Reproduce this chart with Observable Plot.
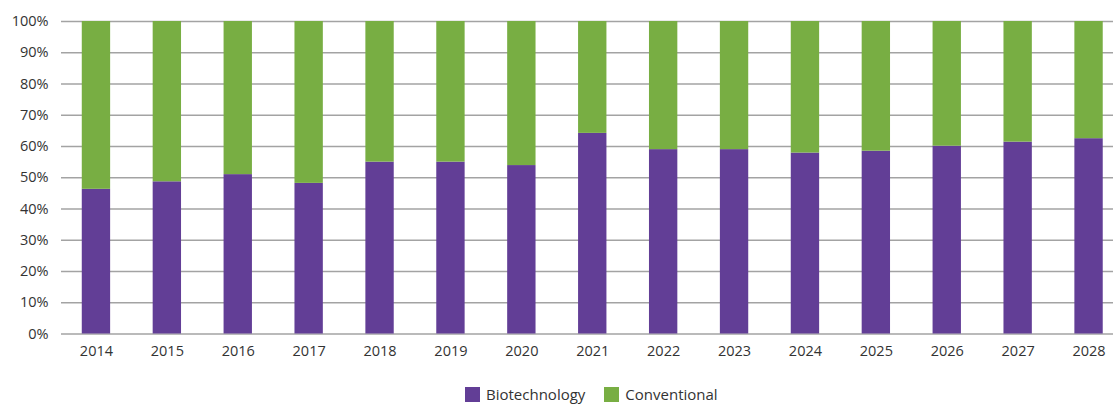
<!DOCTYPE html>
<html>
<head>
<meta charset="utf-8">
<script src="https://cdn.jsdelivr.net/npm/d3@7"></script>
<script src="https://cdn.jsdelivr.net/npm/@observablehq/plot@0.6"></script>
<style>
  html, body { margin: 0; padding: 0; background: #fff; }
  body { width: 1113px; height: 404px; overflow: hidden; position: relative; font-family: "Open Sans", sans-serif; }
  #legend { position: absolute; left: 465px; top: 387px; display: flex; align-items: center; font-size: 15px; line-height: 15px; color: #333; }
  .item { display: flex; align-items: center; margin-right: 19px; }
  .sw { width: 15px; height: 15px; margin-right: 6px; }
</style>
</head>
<body>
<div id="chart"></div>
<div id="legend"></div>
<script>
const years = ["2014","2015","2016","2017","2018","2019","2020","2021","2022","2023","2024","2025","2026","2027","2028"];
const biotechnology = [46.3, 48.7, 51.0, 48.2, 55.0, 55.0, 53.9, 64.2, 59.0, 59.0, 57.9, 58.5, 60.1, 61.4, 62.5];
const conventional  = [53.7, 51.3, 49.0, 51.8, 45.0, 45.0, 46.1, 35.8, 41.0, 41.0, 42.1, 41.5, 39.9, 38.6, 37.5];
const seriesNames = ["Biotechnology", "Conventional"];
const seriesColors = ["#623e96", "#78ae43"];
const yTicks = [0, 10, 20, 30, 40, 50, 60, 70, 80, 90, 100];

const rows = [];
years.forEach((y, i) => {
  rows.push({year: y, series: seriesNames[0], value: biotechnology[i]});
  rows.push({year: y, series: seriesNames[1], value: conventional[i]});
});

const chart = Plot.plot({
  width: 1113,
  height: 375,
  marginTop: 21,
  marginBottom: 41.5,
  marginLeft: 61,
  marginRight: 0,
  style: {fontFamily: "'Open Sans', sans-serif", fontSize: "14px", color: "#333"},
  x: {domain: years, range: [60.5, 1124], paddingInner: 0.6, paddingOuter: 0.3, round: false, label: null, tickSize: 0, tickPadding: 12},
  y: {domain: [0, 100], label: null, ticks: yTicks, tickFormat: d => d + "%", tickSize: 0, tickPadding: 13},
  color: {domain: seriesNames, range: seriesColors},
  marks: [
    Plot.ruleY(yTicks, {stroke: "#a3a3a3", strokeWidth: 1.3}),
    Plot.barY(rows, Plot.stackY({x: "year", y: "value", fill: "series", order: seriesNames})),
    Plot.axisX({tickSize: 0, tickPadding: 12, fontSize: 14.5}),
    Plot.axisY({ticks: yTicks, tickFormat: d => d + "%", tickSize: 0, tickPadding: 13, fontSize: 14.5})
  ]
});
document.getElementById("chart").appendChild(chart);

const legend = document.getElementById("legend");
seriesNames.forEach((n, i) => {
  const it = document.createElement("div");
  it.className = "item";
  const sw = document.createElement("div");
  sw.className = "sw";
  sw.style.background = seriesColors[i];
  const t = document.createElement("span");
  t.textContent = n;
  it.appendChild(sw); it.appendChild(t);
  legend.appendChild(it);
});
</script>
</body>
</html>
